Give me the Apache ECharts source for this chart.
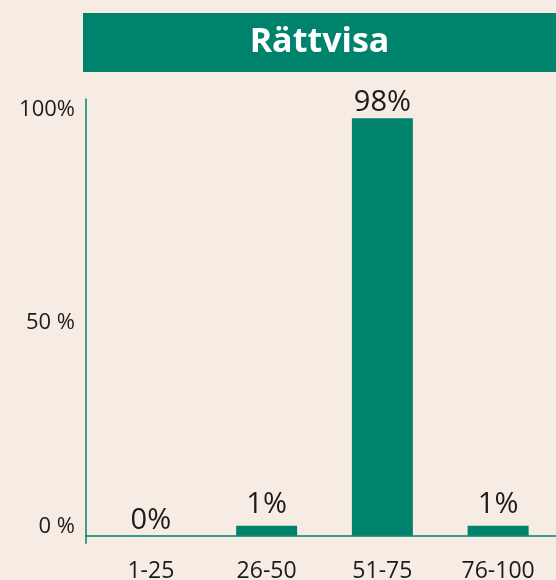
<!DOCTYPE html>
<html>
<head>
<meta charset="utf-8">
<script src="https://cdn.jsdelivr.net/npm/echarts@6/dist/echarts.min.js"></script>
<style>
  html, body { margin: 0; padding: 0; background: #f7ece3; }
  #chart { width: 556px; height: 580px; }
</style>
</head>
<body>
<div id="chart"></div>
<script>
// data
const categories = ['1-25', '26-50', '51-75', '76-100'];
const shares = [0, 1, 98, 1];
const tickValues = [0, 50, 100];
const tickLabels = ['0 %', '50 %', '100%'];
const chartTitle = 'Rättvisa';

const green = '#00836d';
const ink = '#1b1b1b';
const font = 'Open Sans';

const chart = echarts.init(document.getElementById('chart'));

// y range: zero sits a little above the x axis line
const yMin = -1.78;
const yMax = 102.5;

const barData = shares.map(function (v) {
  const item = { value: v };
  if (v === 0) {
    item.itemStyle = { color: 'rgba(0,0,0,0)' };
    item.label = { distance: -10 };
  } else if (v < 5) {
    item.label = { distance: 6 };
  }
  return item;
});

const option = {
  backgroundColor: '#f7ece3',
  textStyle: { fontFamily: font },
  graphic: [
    {
      type: 'group',
      left: 83,
      top: 13,
      children: [
        { type: 'rect', shape: { x: 0, y: 0, width: 473, height: 59 }, style: { fill: green } },
        {
          type: 'text',
          x: 236.5,
          y: 29.5,
          style: {
            text: chartTitle,
            fill: '#fff',
            font: 'bold 34px "' + font + '"',
            textAlign: 'center',
            textVerticalAlign: 'middle'
          }
        }
      ]
    }
  ],
  grid: [
    // bars
    { left: 93, right: 0, top: 99, bottom: 36.7, outerBoundsMode: 'none' },
    // axis lines
    { left: 86, right: 0, top: 99, bottom: 36.7, outerBoundsMode: 'none' }
  ],
  xAxis: [
    {
      type: 'category',
      gridIndex: 0,
      data: categories,
      axisLine: { show: false },
      axisTick: { show: false },
      axisLabel: { color: ink, fontSize: 23, fontFamily: font, margin: 17 }
    },
    {
      type: 'category',
      gridIndex: 1,
      data: categories,
      axisLine: { show: true, lineStyle: { color: green, width: 1.5 } },
      axisTick: { show: false },
      axisLabel: { show: false }
    }
  ],
  yAxis: [
    {
      type: 'value',
      gridIndex: 0,
      min: yMin,
      max: yMax,
      show: false
    },
    {
      type: 'value',
      gridIndex: 1,
      min: yMin,
      max: yMax,
      splitLine: { show: false },
      axisTick: { show: false },
      axisLine: { show: true, lineStyle: { color: green, width: 1.5 } },
      axisLabel: {
        customValues: tickValues,
        margin: 11,
        color: ink,
        fontSize: 22,
        fontFamily: font,
        formatter: function (v) {
          const i = tickValues.indexOf(v);
          const txt = i >= 0 ? tickLabels[i] : '';
          return v === 0 ? '{low|' + txt + '}' : txt;
        },
        rich: {
          low: { color: ink, fontSize: 22, fontFamily: font, padding: [0, 0, 18, 0] }
        }
      }
    }
  ],
  series: [
    {
      type: 'bar',
      xAxisIndex: 0,
      yAxisIndex: 0,
      data: barData,
      barWidth: 61,
      barMinHeight: 10,
      itemStyle: { color: green },
      label: {
        show: true,
        position: 'top',
        distance: 1,
        color: ink,
        fontSize: 29,
        fontFamily: font,
        formatter: '{c}%'
      },
      silent: true
    }
  ]
};

chart.setOption(option);
</script>
</body>
</html>
